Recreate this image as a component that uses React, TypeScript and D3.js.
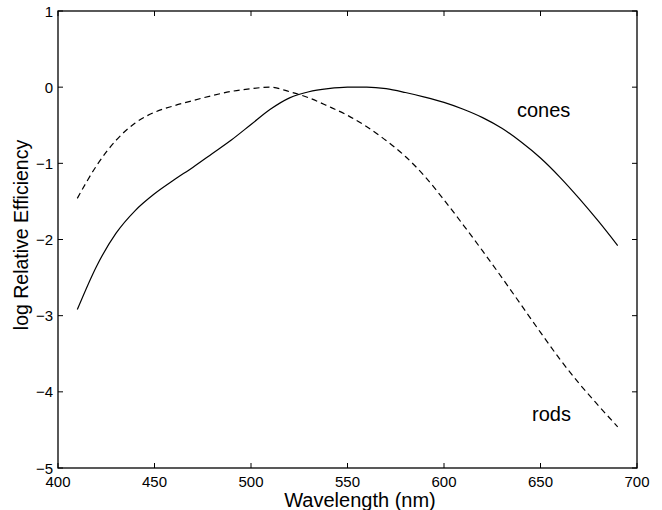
import React from 'react';
import * as d3 from 'd3';

// wavelength samples (nm)
const wavelengths = [410, 420, 430, 440, 450, 460, 470, 480, 490, 500, 510, 520, 530, 540, 550, 560, 570, 580, 590, 600, 610, 620, 630, 640, 650, 660, 670, 680, 690];

// log relative efficiency
const cones = [-2.92, -2.35, -1.92, -1.62, -1.40, -1.22, -1.05, -0.87, -0.69, -0.49, -0.29, -0.14, -0.06, -0.02, 0, 0, -0.02, -0.07, -0.13, -0.20, -0.29, -0.40, -0.54, -0.72, -0.93, -1.18, -1.46, -1.76, -2.08];
const rods = [-1.46, -1.03, -0.70, -0.47, -0.33, -0.245, -0.175, -0.11, -0.055, -0.02, 0, -0.06, -0.14, -0.25, -0.37, -0.52, -0.70, -0.91, -1.17, -1.48, -1.81, -2.15, -2.50, -2.86, -3.22, -3.57, -3.89, -4.18, -4.46];

const xTicks = [400, 450, 500, 550, 600, 650, 700];
const yTicks = [-5, -4, -3, -2, -1, 0, 1];

const W = 662;
const H = 510;
const margin = { top: 11, right: 25, bottom: 42, left: 58 };
const font = '"Liberation Sans", Arial, Helvetica, sans-serif';

const App = () => {
    const x = d3.scaleLinear().domain([400, 700]).range([margin.left, W - margin.right]);
    const y = d3.scaleLinear().domain([-5, 1]).range([H - margin.bottom, margin.top]);

    const line = d3.line<number>()
        .x((_, i) => x(wavelengths[i]))
        .y(d => y(d))
        .curve(d3.curveMonotoneX);

    const x0 = x(400), x1 = x(700), y0 = y(-5), y1 = y(1);
    const tick = 5;
    const fmt = (d: number) => (d < 0 ? '\u2212' + Math.abs(d) : String(d));

    return (
        <div style={{ position: 'fixed', left: 0, top: 0, width: W, height: H, background: '#fff' }}>
            <svg width={W} height={H} style={{ display: 'block' }} fontFamily={font}>
                <rect x={0} y={0} width={W} height={H} fill="#fff" />

                <path d={line(cones) || ''} fill="none" stroke="#000" strokeWidth={1.2} />
                <path d={line(rods) || ''} fill="none" stroke="#000" strokeWidth={1.2} strokeDasharray="6,4" />

                {/* box */}
                <rect x={x0} y={y1} width={x1 - x0} height={y0 - y1} fill="none" stroke="#000" strokeWidth={1.3} />

                {xTicks.map(t => (
                    <g key={'x' + t}>
                        <line x1={x(t)} x2={x(t)} y1={y0} y2={y0 - tick} stroke="#000" />
                        <line x1={x(t)} x2={x(t)} y1={y1} y2={y1 + tick} stroke="#000" />
                        <text x={x(t)} y={y0 + 19} textAnchor="middle" fontSize={15} fill="#000">{t}</text>
                    </g>
                ))}
                {yTicks.map(t => (
                    <g key={'y' + t}>
                        <line x1={x0} x2={x0 + tick} y1={y(t)} y2={y(t)} stroke="#000" />
                        <line x1={x1} x2={x1 - tick} y1={y(t)} y2={y(t)} stroke="#000" />
                        <text x={x0 - 5} y={y(t) + 5.5} textAnchor="end" fontSize={15} fill="#000">{fmt(t)}</text>
                    </g>
                ))}

                <text x={517} y={117} fontSize={20} fill="#000">cones</text>
                <text x={532} y={421} fontSize={20} fill="#000">rods</text>

                <text x={360} y={507} textAnchor="middle" fontSize={20} fill="#000">Wavelength (nm)</text>
                <text transform="translate(28,235) rotate(-90)" textAnchor="middle" fontSize={19.5} fill="#000">log Relative Efficiency</text>
            </svg>
        </div>
    );
};

export default App;
